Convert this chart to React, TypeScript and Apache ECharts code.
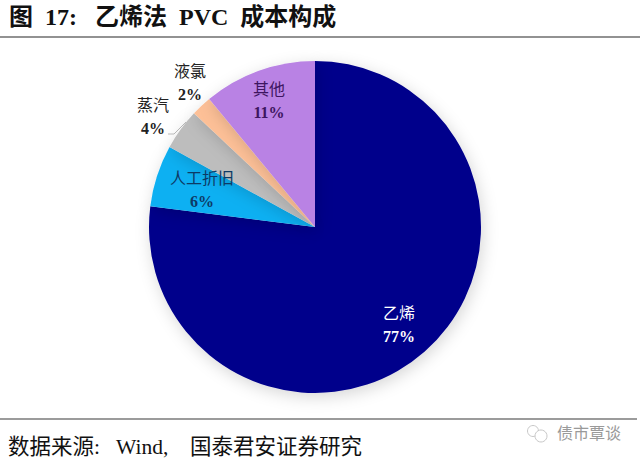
import React, { useEffect, useRef } from "react";
import * as echarts from "echarts";

const categories = ["乙烯", "人工折旧", "蒸汽", "液氯", "其他"];
const values = [77, 6, 4, 2, 11];
const sliceColors = ["#00008b", "#0fb0f2", "#bdbdbd", "#fdc097", "#b982e4"];
const labelColors = ["#ffffff", "#0d3a66", "#222222", "#222222", "#3d1560"];
const labelCenters: Record<string, [number, number]> = {
  "乙烯": [399, 325],
  "人工折旧": [202, 190],
  "蒸汽": [153, 117],
  "液氯": [190, 83],
  "其他": [269, 101],
};
const titleText = "图  17:   乙烯法  PVC  成本构成";
const sourceText = "数据来源:   Wind,    国泰君安证券研究";
const watermarkText = "债市覃谈";
const FONT = '"Liberation Serif", "Noto Sans CJK SC", serif';

export default function App() {
  const ref = useRef<HTMLDivElement>(null);
  useEffect(() => {
    document.body.style.margin = "0";
    const chart = echarts.init(ref.current!, null, { renderer: "svg" });
    chart.setOption({
      animation: false,
      backgroundColor: "#ffffff",
      series: [
        {
          type: "pie",
          center: [315, 227],
          radius: [0, 166],
          startAngle: 90,
          clockwise: true,
          silent: true,
          avoidLabelOverlap: false,
          data: categories.map((name, i) => ({
            name,
            value: values[i],
            itemStyle: { color: sliceColors[i] },
            label: {
              rich: {
                n: { color: labelColors[i], fontFamily: FONT, fontSize: 16, fontWeight: "normal", lineHeight: 23 },
                v: { color: labelColors[i], fontFamily: FONT, fontSize: 16, fontWeight: "bold", lineHeight: 23 },
              },
            },
          })),
          itemStyle: {
            shadowBlur: 16,
            shadowColor: "rgba(0,0,0,0.16)",
            shadowOffsetX: 2,
            shadowOffsetY: 4,
          },
          label: {
            show: true,
            position: "inside",
            formatter: (p: any) => `{n|${p.name}}\n{v|${p.value}%}`,
            align: "center",
            verticalAlign: "middle",
          },
          labelLine: { show: false },
          labelLayout: (p: any) => {
            const name = categories[p.dataIndex];
            const c = labelCenters[name];
            return { x: c[0], y: c[1], align: "center", verticalAlign: "middle" };
          },
        },
      ],
      graphic: [
        {
          type: "text",
          left: 9,
          top: 5,
          style: {
            text: titleText,
            fontFamily: FONT,
            fontSize: 24,
            fontWeight: "bold",
            fill: "#111111",
          },
        },
        {
          type: "line",
          shape: { x1: 0, y1: 37, x2: 640, y2: 37 },
          style: { stroke: "#6e6e6e", lineWidth: 1.5 },
        },
        {
          type: "line",
          shape: { x1: 0, y1: 419, x2: 637, y2: 419 },
          style: { stroke: "#7a7a7a", lineWidth: 1.5 },
        },
        {
          type: "polyline",
          shape: { points: [[168, 134], [174, 134], [180, 128], [186, 122]] },
          style: { stroke: "#bdbdbd", lineWidth: 1, fill: "none" },
        },
        {
          type: "text",
          left: 8,
          top: 436,
          style: {
            text: sourceText,
            fontFamily: FONT,
            fontSize: 21.5,
            fill: "#111111",
          },
        },
        {
          type: "circle",
          shape: { cx: 533, cy: 431, r: 5.5 },
          style: { stroke: "#c8c8c8", lineWidth: 1, fill: "none" },
        },
        {
          type: "circle",
          shape: { cx: 541, cy: 436, r: 6 },
          style: { stroke: "#c8c8c8", lineWidth: 1, fill: "#ffffff" },
        },
        {
          type: "text",
          left: 557,
          top: 425,
          style: {
            text: watermarkText,
            fontFamily: FONT,
            fontSize: 16,
            fill: "#9a9a9a",
          },
        },
      ],
    });
    return () => chart.dispose();
  }, []);
  return <div ref={ref} style={{ width: 640, height: 461 }} />;
}
